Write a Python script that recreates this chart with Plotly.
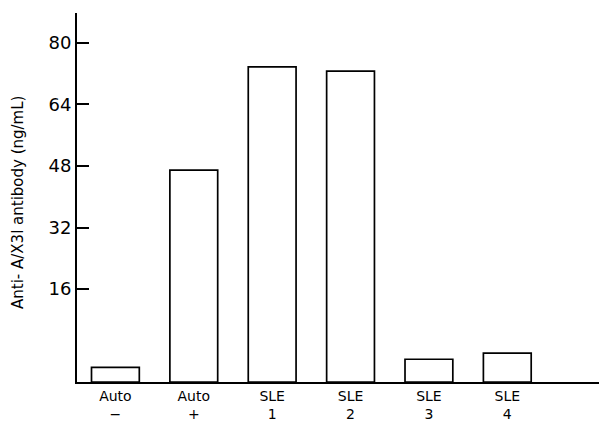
import plotly.graph_objects as go

categories = ["Auto<br>−", "Auto<br>+", "SLE<br>1", "SLE<br>2", "SLE<br>3", "SLE<br>4"]
values = [-4.3, 46.9, 73.7, 72.6, -2.2, -0.6]
y_ticks = [16, 32, 48, 64, 80]

YMIN, YMAX = -8.1, 87.7
xs = list(range(len(categories)))

fig = go.Figure()
fig.add_trace(go.Bar(
    x=xs,
    y=[v - YMIN for v in values],
    base=YMIN,
    width=0.61,
    marker=dict(color="white", line=dict(color="black", width=1.7)),
))

fig.update_layout(
    width=600, height=422,
    margin=dict(l=77, r=1, t=13, b=40, autoexpand=False),
    paper_bgcolor="white", plot_bgcolor="white",
    showlegend=False,
    font=dict(family="DejaVu Sans, sans-serif", color="black"),
    xaxis=dict(
        range=[-0.49, 6.17],
        tickmode="array", tickvals=xs, ticktext=categories,
        showgrid=False, zeroline=False,
        showline=True, linecolor="black", linewidth=2,
        ticks="", tickfont=dict(size=14), automargin=False,
    ),
    yaxis=dict(
        range=[YMIN, YMAX],
        tickmode="array", tickvals=y_ticks,
        showgrid=False, zeroline=False,
        showline=True, linecolor="black", linewidth=2,
        ticks="inside", ticklen=12, tickwidth=1.6, tickcolor="black",
        tickfont=dict(size=18), automargin=False,
    ),
    annotations=[dict(
        text="Anti- A/X3l antibody (ng/mL)",
        xref="paper", yref="paper",
        x=(18 - 77) / 522, y=1 - (203 - 13) / 369,
        textangle=-90, showarrow=False,
        font=dict(size=15, color="black"),
        xanchor="center", yanchor="middle",
    )],
)

fig.write_html(
    "out.html",
    config={"displayModeBar": False},
    post_script="document.body.style.margin='0';document.body.style.padding='0';",
)
